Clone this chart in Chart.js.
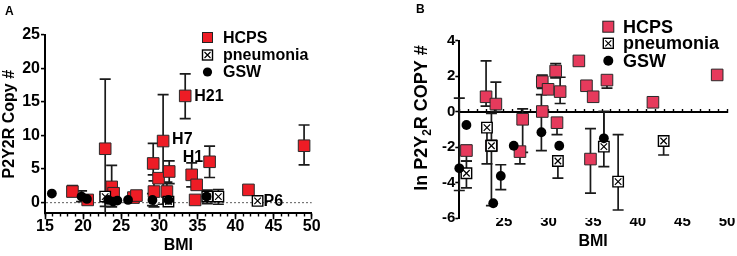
<!DOCTYPE html>
<html>
<head>
<meta charset="utf-8">
<script src="https://cdn.jsdelivr.net/npm/chart.js@4.4.1/dist/chart.umd.min.js"></script>
<style>
  body { margin: 0; background: #fff; width: 737px; height: 256px; position: relative; overflow: hidden;
         font-family: "Liberation Sans", Arial, Helvetica, sans-serif; }
  .panel { position: absolute; top: 0; }
  #panelA { left: 0; }
  #panelB { left: 370px; }
  .tag { position: absolute; font-weight: bold; font-size: 12px; color: #000; }
</style>
</head>
<body>
<div class="panel" id="panelA"><canvas id="chartA" width="370" height="256"></canvas></div>
<div class="panel" id="panelB"><canvas id="chartB" width="367" height="256"></canvas></div>
<div class="tag" style="left:5px;top:4px">A</div>
<div class="tag" style="left:416px;top:2px">B</div>
<script>
// ---------- panel A : P2Y2R copy number vs BMI ----------
const hcpsBmiA = [18.6, 20.6, 22.9, 23.75, 24.0, 26.6, 27.0, 29.2, 29.3, 29.9, 30.5, 31.0, 31.3, 33.4, 34.25, 34.9, 34.7, 36.6, 41.7, 49.0];
const hcpsCopyA = [1.6, 0.35, 8.0, 2.3, 1.35, 0.7, 1.0, 5.8, 1.6, 3.6, 9.15, 1.6, 4.6, 15.9, 4.1, 2.6, 0.35, 6.05, 1.85, 8.45];
const hcpsLoA = [0.9, null, -1.65, -0.7, null, null, null, 4.1, -0.7, null, -0.3, -0.3, 2.8, 12.5, 2.3, null, null, 3.7, null, 5.6];
const hcpsHiA = [2.5, null, 18.4, 5.5, null, null, null, 8.8, 3.2, null, 16.1, 3.0, 6.2, 19.2, 5.9, null, null, 8.4, null, 11.55];

const pneuBmiA = [22.9, 31.2, 36.3, 37.75, 42.9];
const pneuCopyA = [0.85, 0.1, 0.85, 0.85, 0.2];
const pneuLoA = [-0.6, -0.5, -0.2, -0.3, null];
const pneuHiA = [1.2, 0.6, 1.8, 1.9, null];

const gswBmiA = [15.9, 19.8, 20.5, 23.3, 23.95, 24.5, 25.9, 29.1, 31.2, 36.2];
const gswCopyA = [1.3, 0.85, 0.5, 0.35, 0.1, 0.25, 0.35, 0.35, 0.35, 0.85];
const gswLoA = [null, 0.1, null, null, null, null, null, -0.5, -0.2, null];
const gswHiA = [null, 1.7, null, null, null, null, null, 1.3, null, null];

const xRangeA = [15, 50];
const yRangeA = [-1.65, 25];
const tagsA = [
  { text: 'H21', series: 'HCPS', index: 13 },
  { text: 'H7', series: 'HCPS', index: 10 },
  { text: 'H1', series: 'HCPS', index: 14 },
  { text: 'P6', series: 'pneumonia', index: 4 }
];

// ---------- panel B : ln P2Y2R copy number vs BMI ----------
const hcpsBmiB = [20.8, 23.0, 24.1, 23.6, 26.8, 27.1, 29.3, 29.3, 29.95, 30.8, 30.95, 31.3, 33.4, 34.25, 35.0, 34.7, 36.55, 41.7, 48.9];
const hcpsLnB = [-2.2, 0.83, 0.42, -1.93, -2.26, -0.44, 0, 1.68, 1.25, 2.28, -0.63, 1.12, 2.85, 1.45, 0.83, -2.68, 1.77, 0.52, 2.06];
const hcpsLoB = [-2.8, 0.3, 0.0, -5.3, -2.95, -2.3, null, 1.3, null, 1.9, -1.3, 0.45, null, null, null, -4.6, 1.32, null, null];
const hcpsHiB = [-1.9, 2.85, 1.65, -0.1, null, 0.15, null, 2.05, null, 2.7, null, 1.93, null, null, null, -0.97, null, null, null];

const pneuBmiB = [20.8, 23.1, 23.6, 31.05, 36.2, 37.8, 42.9];
const pneuLnB = [-3.48, -0.91, -1.93, -2.79, -1.98, -3.95, -1.66];
const pneuLoB = [-4.3, -2.95, null, -3.75, -3.1, -5.55, -2.45];
const pneuHiB = [-2.8, null, null, null, 0, -1.3, null];

const gswBmiB = [20.0, 20.8, 23.8, 24.65, 26.1, 29.2, 31.2, 36.2];
const gswLnB = [-3.2, -0.76, -5.17, -3.63, -1.93, -1.17, -1.93, -1.51];
const gswLoB = [-4.45, null, null, -4.4, null, -2.2, null, null];
const gswHiB = [0.75, null, null, -3.0, null, 0.95, null, 0];

const xRangeB = [20, 50];
const yRangeB = [-6, 4];

const legendLabels = ['HCPS', 'pneumonia', 'GSW'];
const xTitle = 'BMI';
const yTitleA = 'P2Y2R Copy #';
const yTitleB = [{ text: 'ln P2Y' }, { text: '2', sub: true }, { text: 'R COPY #' }];

// ---------- styling ----------
const FONT = '"Liberation Sans", Arial, Helvetica, sans-serif';
const RED_A = '#ee1c25';
const RED_B = '#e63a5c';

Chart.defaults.font.family = FONT;
Chart.defaults.font.weight = 'bold';
Chart.defaults.color = '#000';

function points(xs, ys) {
  return xs.map((x, i) => ({ x, y: ys[i] }));
}

function drawSquare(ctx, x, y, side, fill, stroke) {
  ctx.fillStyle = fill;
  ctx.strokeStyle = stroke;
  ctx.lineWidth = 1;
  ctx.fillRect(x - side / 2, y - side / 2, side, side);
  ctx.strokeRect(x - side / 2, y - side / 2, side, side);
}

function drawCrossBox(ctx, x, y, side) {
  const h = side / 2;
  ctx.fillStyle = '#fff';
  ctx.strokeStyle = '#000';
  ctx.lineWidth = 1.4;
  ctx.fillRect(x - h, y - h, side, side);
  ctx.strokeRect(x - h, y - h, side, side);
  ctx.lineWidth = 1.2;
  ctx.beginPath();
  ctx.moveTo(x - h + 2, y - h + 2); ctx.lineTo(x + h - 2, y + h - 2);
  ctx.moveTo(x + h - 2, y - h + 2); ctx.lineTo(x - h + 2, y + h - 2);
  ctx.stroke();
}

function drawDot(ctx, x, y, r) {
  ctx.fillStyle = '#000';
  ctx.beginPath();
  ctx.arc(x, y, r, 0, Math.PI * 2);
  ctx.fill();
}

// vertical error bars with caps, drawn behind the symbols
const errorBars = {
  id: 'errorBars',
  beforeDatasetsDraw(chart) {
    const { ctx, scales: { x, y } } = chart;
    ctx.save();
    ctx.strokeStyle = '#1a1a1a';
    ctx.lineWidth = 1.7;
    chart.data.datasets.forEach((ds) => {
      if (!ds.errLo) return;
      ds.data.forEach((pt, i) => {
        const lo = ds.errLo[i];
        const hi = ds.errHi[i];
        if (lo == null && hi == null) return;
        const px = x.getPixelForValue(pt.x);
        const top = y.getPixelForValue(hi ?? pt.y);
        const bottom = y.getPixelForValue(lo ?? pt.y);
        ctx.beginPath();
        ctx.moveTo(px, top);
        ctx.lineTo(px, bottom);
        if (hi != null) { ctx.moveTo(px - 5.5, top); ctx.lineTo(px + 5.5, top); }
        if (lo != null && lo > y.min) { ctx.moveTo(px - 5.5, bottom); ctx.lineTo(px + 5.5, bottom); }
        ctx.stroke();
      });
    });
    ctx.restore();
  }
};

function overlay(style) {
  return {
    id: 'overlay',
    afterDraw(chart) {
      const ctx = chart.ctx;
      ctx.save();
      // legend
      const lg = style.legend;
      legendLabels.forEach((label, i) => {
        const cy = lg.y[i];
        if (i === 0) drawSquare(ctx, lg.x, cy, lg.square, style.red, '#222');
        if (i === 1) drawCrossBox(ctx, lg.x, cy, lg.cross);
        if (i === 2) drawDot(ctx, lg.x, cy, lg.dot);
        ctx.fillStyle = '#000';
        ctx.font = `bold ${lg.font}px ${FONT}`;
        ctx.textBaseline = 'middle';
        ctx.textAlign = 'left';
        ctx.fillText(label, lg.textX, cy + 1);
      });
      // point tags
      (style.tags || []).forEach((tag) => {
        const dsIndex = chart.data.datasets.findIndex((d) => d.label === tag.series);
        const el = chart.getDatasetMeta(dsIndex).data[tag.index];
        const off = style.tagOffsets[tag.text];
        ctx.font = `bold 16px ${FONT}`;
        ctx.fillStyle = '#000';
        ctx.textBaseline = 'middle';
        ctx.textAlign = 'left';
        ctx.fillText(tag.text, el.x + off[0], el.y + off[1]);
      });
      // rotated y title with subscript
      if (style.yTitle) {
        const t = style.yTitle;
        ctx.translate(t.x, t.y);
        ctx.rotate(-Math.PI / 2);
        const fontFor = (p) => `bold ${p.sub ? Math.round(t.size * 0.65) : t.size}px ${FONT}`;
        const widths = t.parts.map((p) => { ctx.font = fontFor(p); return ctx.measureText(p.text).width; });
        let pos = -widths.reduce((a, b) => a + b, 0) / 2;
        ctx.textBaseline = 'middle';
        ctx.textAlign = 'left';
        t.parts.forEach((p, i) => {
          ctx.font = fontFor(p);
          ctx.fillText(p.text, pos, p.sub ? t.size * 0.35 : 0);
          pos += widths[i];
        });
      }
      ctx.restore();
    }
  };
}

// GSW on top, then the pneumonia cross, pneumonia box, HCPS underneath
function seriesSets(red, hcps, pneu, gsw) {
  return [
    { label: 'GSW', data: gsw.data, errLo: gsw.lo, errHi: gsw.hi, xAxisID: 'x', yAxisID: 'y',
      pointStyle: 'circle', pointRadius: 4.9, pointHoverRadius: 4.9,
      backgroundColor: '#000', borderColor: '#000', borderWidth: 0, clip: false },
    { label: 'pneumonia-x', data: pneu.data, xAxisID: 'x', yAxisID: 'y',
      pointStyle: 'crossRot', pointRadius: 4.6, pointHoverRadius: 4.6,
      borderColor: '#000', borderWidth: 1.2, clip: false },
    { label: 'pneumonia', data: pneu.data, errLo: pneu.lo, errHi: pneu.hi, xAxisID: 'x', yAxisID: 'y',
      pointStyle: 'rect', pointRadius: 7.4, pointHoverRadius: 7.4,
      backgroundColor: '#fff', borderColor: '#000', borderWidth: 1.4, clip: false },
    { label: 'HCPS', data: hcps.data, errLo: hcps.lo, errHi: hcps.hi, xAxisID: 'x', yAxisID: 'y',
      pointStyle: 'rect', pointRadius: 8.2, pointHoverRadius: 8.2,
      backgroundColor: red, borderColor: '#2a2a2a', borderWidth: 1, clip: false }
  ];
}

// ---------- chart A ----------
new Chart(document.getElementById('chartA'), {
  type: 'scatter',
  data: {
    datasets: seriesSets(RED_A,
      { data: points(hcpsBmiA, hcpsCopyA), lo: hcpsLoA, hi: hcpsHiA },
      { data: points(pneuBmiA, pneuCopyA), lo: pneuLoA, hi: pneuHiA },
      { data: points(gswBmiA, gswCopyA), lo: gswLoA, hi: gswHiA })
  },
  options: {
    responsive: false,
    animation: false,
    events: [],
    devicePixelRatio: 1,
    layout: { padding: { top: 35, right: 58.3, bottom: 0, left: 0 } },
    plugins: { legend: { display: false }, tooltip: { enabled: false } },
    scales: {
      x: {
        type: 'linear', position: 'bottom', min: xRangeA[0], max: xRangeA[1],
        ticks: { stepSize: 5, padding: -2, autoSkip: false, maxRotation: 0, font: { size: 16 } },
        grid: { drawOnChartArea: false, tickLength: 6, tickWidth: 1.6, tickColor: '#000' },
        border: { width: 2, color: '#000' },
        title: { display: true, text: xTitle, font: { size: 16 }, padding: { top: 0, bottom: 1 } },
        afterFit: (s) => { s.height = 256 - 213.3; }
      },
      xm: {
        type: 'linear', axis: 'x', position: { y: yRangeA[0] }, min: xRangeA[0], max: xRangeA[1],
        ticks: { display: false, stepSize: 1 },
        grid: { drawOnChartArea: false, tickLength: 3.5, tickWidth: 1.4, tickColor: '#000' },
        border: { display: false }
      },
      y: {
        type: 'linear', min: yRangeA[0], max: yRangeA[1],
        ticks: { stepSize: 5, includeBounds: false, padding: 1, font: { size: 16 } },
        grid: {
          drawOnChartArea: true,
          color: (c) => (c.tick && c.tick.value === 0 ? '#777' : 'rgba(0,0,0,0)'),
          lineWidth: 1.2, tickLength: 4, tickWidth: 1.6, tickColor: '#000'
        },
        border: { width: 2, color: '#000', dash: [2, 2] },
        title: { display: true, text: yTitleA, font: { size: 16 }, padding: 0 },
        afterFit: (s) => { s.width = 45; }
      }
    }
  },
  plugins: [errorBars, overlay({
    red: RED_A,
    legend: { x: 207.5, y: [37.5, 55, 72], textX: 223, font: 16, square: 10, cross: 10, dot: 4.6 },
    tags: tagsA,
    tagOffsets: { H21: [9, 1], H7: [9, -1], H1: [-9, -17], P6: [6, 1] }
  })]
});

// ---------- chart B ----------
new Chart(document.getElementById('chartB'), {
  type: 'scatter',
  data: {
    datasets: seriesSets(RED_B,
      { data: points(hcpsBmiB, hcpsLnB), lo: hcpsLoB, hi: hcpsHiB },
      { data: points(pneuBmiB, pneuLnB), lo: pneuLoB, hi: pneuHiB },
      { data: points(gswBmiB, gswLnB), lo: gswLoB, hi: gswHiB })
  },
  options: {
    responsive: false,
    animation: false,
    events: [],
    devicePixelRatio: 1,
    layout: { padding: { top: 40.5, right: 10, bottom: 0, left: 41.5 } },
    plugins: { legend: { display: false }, tooltip: { enabled: false } },
    scales: {
      x: {
        type: 'linear', position: 'bottom', min: xRangeB[0], max: xRangeB[1],
        ticks: { stepSize: 5, padding: -5, autoSkip: false, maxRotation: 0, font: { size: 15 },
                 callback: (v) => (v === xRangeB[0] ? '' : v) },
        grid: { display: false, drawTicks: false },
        border: { display: false },
        title: { display: true, text: xTitle, font: { size: 16 }, padding: { top: 0, bottom: 5 } },
        afterFit: (s) => { s.height = 256 - 218; }
      },
      x0: {
        type: 'linear', axis: 'x', position: { y: 0 }, min: xRangeB[0], max: xRangeB[1],
        ticks: { display: false, stepSize: 1 },
        grid: { drawOnChartArea: false, tickLength: -4, tickWidth: 1.4, tickColor: '#000' },
        border: { width: 2, color: '#000' }
      },
      y: {
        type: 'linear', min: yRangeB[0], max: yRangeB[1],
        ticks: { stepSize: 2, padding: 0, font: { size: 15 } },
        grid: { drawOnChartArea: false, tickLength: 4, tickWidth: 1.6, tickColor: '#000' },
        border: { width: 2, color: '#000' },
        afterFit: (s) => { s.width = 47.8; }
      }
    }
  },
  plugins: [errorBars, overlay({
    red: RED_B,
    legend: { x: 238.3, y: [26.7, 43.3, 60.7], textX: 253, font: 18, square: 11, cross: 10, dot: 5 },
    yTitle: { parts: yTitleB, x: 51.7, y: 118, size: 18 }
  })]
});
</script>
</body>
</html>
